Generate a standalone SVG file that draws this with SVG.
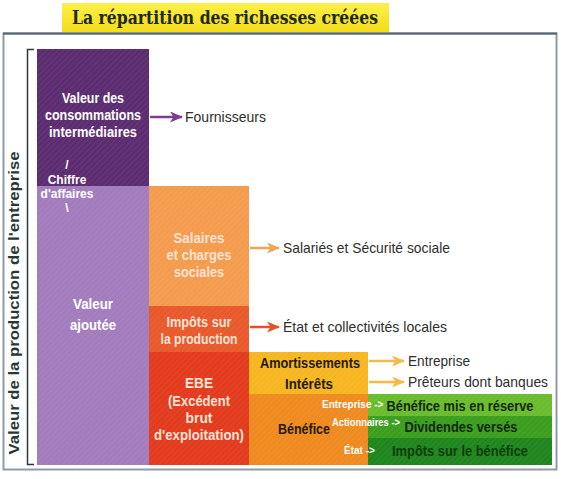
<svg xmlns="http://www.w3.org/2000/svg" width="561" height="479" viewBox="0 0 561 479">
<style>
.w{font-family:"Liberation Sans",Arial,sans-serif;font-weight:bold;fill:#ffffff;text-anchor:middle}
.wl{font-family:"Liberation Sans",Arial,sans-serif;font-weight:bold;fill:#fbe3d6;text-anchor:middle;font-size:14px}
.d{font-family:"Liberation Sans",Arial,sans-serif;font-weight:bold;fill:#241a08;text-anchor:middle;font-size:15px}
.g{font-family:"Liberation Sans",Arial,sans-serif;font-weight:bold;fill:#14280a;text-anchor:middle;font-size:15px}
.o{font-family:"Liberation Sans",Arial,sans-serif;fill:#2e2e2e;font-size:15px}
.sm{font-family:"Liberation Sans",Arial,sans-serif;font-weight:bold;fill:#ffffff;font-size:10px}
.arr{fill:none;stroke-width:2.5}
</style>
<defs>
<pattern id="hatch" width="4" height="4" patternUnits="userSpaceOnUse" patternTransform="rotate(45)">
<rect width="4" height="4" fill="none"/>
<line x1="0" y1="0" x2="0" y2="4" stroke="#ffffff" stroke-width="1" stroke-opacity="0.12"/>
</pattern>
<linearGradient id="ttl" x1="0" y1="0" x2="0" y2="1">
<stop offset="0" stop-color="#fbf04a"/>
<stop offset="1" stop-color="#f3dc1a"/>
</linearGradient>
<marker id="mP" viewBox="0 0 13 11" refX="12" refY="5.5" markerWidth="13" markerHeight="11" markerUnits="userSpaceOnUse" orient="auto">
<path d="M0,0 L13,5.5 L0,11 L3.5,5.5 z" fill="#7c3d8e"/>
</marker>
<marker id="mO" viewBox="0 0 13 11" refX="12" refY="5.5" markerWidth="13" markerHeight="11" markerUnits="userSpaceOnUse" orient="auto">
<path d="M0,0 L13,5.5 L0,11 L3.5,5.5 z" fill="#f4a455"/>
</marker>
<marker id="mR" viewBox="0 0 13 11" refX="12" refY="5.5" markerWidth="13" markerHeight="11" markerUnits="userSpaceOnUse" orient="auto">
<path d="M0,0 L13,5.5 L0,11 L3.5,5.5 z" fill="#e4502a"/>
</marker>
<marker id="mY" viewBox="0 0 13 11" refX="12" refY="5.5" markerWidth="13" markerHeight="11" markerUnits="userSpaceOnUse" orient="auto">
<path d="M0,0 L13,5.5 L0,11 L3.5,5.5 z" fill="#f5bb4a"/>
</marker>
</defs>
<rect width="561" height="479" fill="#ffffff"/>

<g id="title">
<rect x="62" y="3" width="327" height="29" fill="url(#ttl)"/>
<text x="225" y="24" font-family="'DejaVu Serif','Liberation Serif',serif" font-weight="bold" font-size="19" fill="#1f2a12" text-anchor="middle" textLength="306" lengthAdjust="spacingAndGlyphs">La répartition des richesses créées</text>
</g>

<g id="frame">
<rect x="3.5" y="33.5" width="553" height="436" fill="#ffffff" stroke="#8e9ba6" stroke-width="2"/>
<line x1="3" y1="33.5" x2="557" y2="33.5" stroke="#55636f" stroke-width="2"/>
</g>

<g id="axis">
<path d="M34,49.5 H27.5 V464.5 H34" fill="none" stroke="#2e3a3a" stroke-width="1.5"/>
<text transform="translate(19,303) rotate(-90)" font-family="'Liberation Sans',Arial,sans-serif" font-weight="bold" font-size="14" fill="#2a3636" text-anchor="middle" textLength="303" lengthAdjust="spacingAndGlyphs">Valeur de la production de l'entreprise</text>
</g>

<g id="ci">
<rect x="37" y="49" width="112" height="137" fill="#5c2c70"/>
<rect x="37" y="49" width="112" height="137" fill="url(#hatch)"/>
<text class="w" font-size="14" x="93" y="103" textLength="62" lengthAdjust="spacingAndGlyphs">Valeur des</text>
<text class="w" font-size="14" x="93" y="120" textLength="96" lengthAdjust="spacingAndGlyphs">consommations</text>
<text class="w" font-size="14" x="93" y="137" textLength="88" lengthAdjust="spacingAndGlyphs">intermédiaires</text>
</g>

<g id="va">
<rect x="37" y="186" width="112" height="279" fill="#a27cbd"/>
<rect x="37" y="186" width="112" height="279" fill="url(#hatch)"/>
<text class="w" font-size="14" x="93" y="309" textLength="40" lengthAdjust="spacingAndGlyphs">Valeur</text>
<text class="w" font-size="14" x="93" y="330" textLength="46" lengthAdjust="spacingAndGlyphs">ajoutée</text>
</g>

<g id="ca">
<text class="w" font-size="12" x="67" y="169">/</text>
<text class="w" font-size="12" x="67" y="184">Chiffre</text>
<text class="w" font-size="12" x="67" y="198">d'affaires</text>
<text class="w" font-size="12" x="67" y="212">\</text>
</g>

<g id="salaires">
<rect x="149" y="186" width="100" height="120" fill="#f49c4e"/>
<rect x="149" y="186" width="100" height="120" fill="url(#hatch)"/>
<text class="wl" x="199" y="243" textLength="51" lengthAdjust="spacingAndGlyphs">Salaires</text>
<text class="wl" x="199" y="260" textLength="65" lengthAdjust="spacingAndGlyphs">et charges</text>
<text class="wl" x="199" y="277" textLength="50" lengthAdjust="spacingAndGlyphs">sociales</text>
</g>

<g id="impots">
<rect x="149" y="306" width="100" height="46" fill="#e8592b"/>
<rect x="149" y="306" width="100" height="46" fill="url(#hatch)"/>
<text class="wl" x="199" y="327" textLength="65" lengthAdjust="spacingAndGlyphs">Impôts sur</text>
<text class="wl" x="199" y="344" textLength="77" lengthAdjust="spacingAndGlyphs">la production</text>
</g>

<g id="ebe">
<rect x="149" y="352" width="100" height="113" fill="#e23b1d"/>
<rect x="149" y="352" width="100" height="113" fill="url(#hatch)"/>
<text class="wl" x="199" y="388" textLength="28" lengthAdjust="spacingAndGlyphs">EBE</text>
<text class="wl" x="199" y="406" textLength="62" lengthAdjust="spacingAndGlyphs">(Excédent</text>
<text class="wl" x="199" y="423" textLength="27" lengthAdjust="spacingAndGlyphs">brut</text>
<text class="wl" x="199" y="440" textLength="90" lengthAdjust="spacingAndGlyphs">d'exploitation)</text>
</g>

<g id="amort">
<rect x="249" y="352" width="119" height="42" fill="#f6b620"/>
<rect x="249" y="352" width="119" height="42" fill="url(#hatch)"/>
<text class="d" x="310" y="368" textLength="100" lengthAdjust="spacingAndGlyphs">Amortissements</text>
<text class="d" x="309" y="389" textLength="48" lengthAdjust="spacingAndGlyphs">Intérêts</text>
</g>

<g id="benefice">
<rect x="249" y="394" width="119" height="71" fill="#ef8a1f"/>
<rect x="249" y="394" width="119" height="71" fill="url(#hatch)"/>
<text class="d" x="304" y="434" textLength="52" lengthAdjust="spacingAndGlyphs">Bénéfice</text>
</g>

<g id="reserve">
<rect x="368" y="394" width="184" height="22" fill="#6abc2c"/>
<rect x="368" y="394" width="184" height="22" fill="url(#hatch)"/>
<text class="g" x="460" y="411" textLength="147" lengthAdjust="spacingAndGlyphs">Bénéfice mis en réserve</text>
</g>
<g id="dividendes">
<rect x="368" y="416" width="184" height="22" fill="#3c9e1e"/>
<rect x="368" y="416" width="184" height="22" fill="url(#hatch)"/>
<text class="g" x="461" y="432" textLength="113" lengthAdjust="spacingAndGlyphs">Dividendes versés</text>
</g>
<g id="impben">
<rect x="368" y="438" width="184" height="27" fill="#1f861d"/>
<rect x="368" y="438" width="184" height="27" fill="url(#hatch)"/>
<text class="g" x="460" y="456" style="fill:#0f3c0c" textLength="136" lengthAdjust="spacingAndGlyphs">Impôts sur le bénéfice</text>
</g>

<g id="labels">
<text class="sm" x="322" y="408">Entreprise -&gt;</text>
<text class="sm" x="332" y="426" textLength="68" lengthAdjust="spacingAndGlyphs">Actionnaires -&gt;</text>
<text class="sm" x="344" y="454">État -&gt;</text>
</g>

<g id="connectors">
<line class="arr" x1="150" y1="117" x2="182" y2="117" stroke="#7c3d8e" marker-end="url(#mP)"/>
<line class="arr" x1="250" y1="248" x2="279" y2="248" stroke="#f4a455" marker-end="url(#mO)"/>
<line class="arr" x1="250" y1="327" x2="279" y2="327" stroke="#e4502a" marker-end="url(#mR)"/>
<line class="arr" x1="369" y1="361" x2="404" y2="361" stroke="#f5bb4a" marker-end="url(#mY)"/>
<line class="arr" x1="369" y1="382" x2="404" y2="382" stroke="#f5bb4a" marker-end="url(#mY)"/>
</g>

<g id="targets">
<text class="o" x="185" y="122" textLength="81" lengthAdjust="spacingAndGlyphs">Fournisseurs</text>
<text class="o" x="283" y="253" textLength="167" lengthAdjust="spacingAndGlyphs">Salariés et Sécurité sociale</text>
<text class="o" x="283" y="332" textLength="164" lengthAdjust="spacingAndGlyphs">État et collectivités locales</text>
<text class="o" x="408" y="366" textLength="62" lengthAdjust="spacingAndGlyphs">Entreprise</text>
<text class="o" x="408" y="387" textLength="140" lengthAdjust="spacingAndGlyphs">Prêteurs dont banques</text>
</g>
</svg>
